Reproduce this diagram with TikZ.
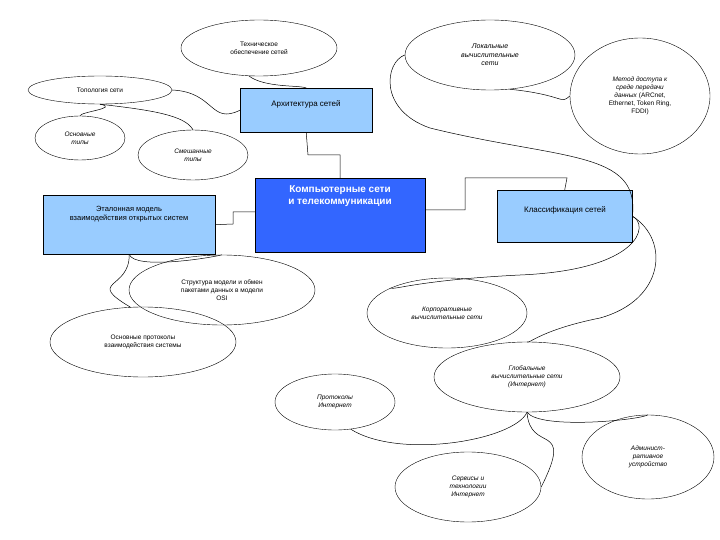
\documentclass[tikz,border=0pt]{standalone}
\usepackage{fontspec}
\setmainfont{Liberation Sans}
\usetikzlibrary{shapes.geometric}
\definecolor{lb}{HTML}{99CCFF}
\definecolor{db}{HTML}{3366FF}
\begin{document}
\begin{tikzpicture}[x=1pt,y=-1pt,
  el/.style={draw,ellipse,inner sep=0pt,align=center,font=\fontsize{6.5}{8}\selectfont},
  bx/.style={draw,fill=lb,align=center,font=\fontsize{8}{9.5}\selectfont,anchor=north west},
  ln/.style={draw,line width=0.5pt}]
\useasboundingbox (0,0) rectangle (720,540);
\node[el,minimum width=156,minimum height=56] (tech) at (259,48) {Техническое\\обеспечение сетей};
\node[el,minimum width=170,minimum height=70,font=\fontsize{7}{8.5}\selectfont\itshape] (loc) at (490,55) {Локальные\\вычислительные\\сети};
\node[el,minimum width=140,minimum height=116] (meth) at (640,96) {\textit{Метод доступа к}\\\textit{среде передачи}\\\textit{данных} (ARCnet,\\Ethernet, Token Ring,\\FDDI)};
\node[el,minimum width=144,minimum height=28] (top) at (100,90) {Топология сети};
\node[bx,minimum width=132,minimum height=44] (arch) at (240,88) {};
\node[font=\fontsize{8}{9.5}\selectfont] at (306,104) {Архитектура сетей};
\node[el,minimum width=90,minimum height=44,font=\fontsize{6.5}{8}\selectfont\itshape] (osn) at (80,138) {Основные\\типы};
\node[el,minimum width=110,minimum height=50,font=\fontsize{6.5}{8}\selectfont\itshape] (sme) at (193,155) {Смешанные\\типы};
\node[draw,fill=db,minimum width=170,minimum height=74,anchor=north west] (main) at (255,178) {};
\node[text=white,align=center,font=\fontsize{10}{12}\selectfont\bfseries] at (340,196) {Компьютерные сети\\и телекоммуникации};
\node[bx,minimum width=172,minimum height=59] (etal) at (43,195) {};
\node[align=center,font=\fontsize{7.5}{9}\selectfont] at (129,214) {Эталонная модель\\взаимодействия открытых систем};
\node[bx,minimum width=135,minimum height=52] (kl) at (497,190) {};
\node[font=\fontsize{8}{9.5}\selectfont] at (565,210) {Классификация сетей};
\node[el,minimum width=186,minimum height=70] (str) at (222,290) {Структура модели и обмен\\пакетами данных в модели\\OSI};
\node[el,minimum width=160,minimum height=70,font=\fontsize{6.5}{8}\selectfont\itshape] (kor) at (447,313) {Корпоративные\\вычислительные сети};
\node[el,minimum width=186,minimum height=70] (prot) at (143,342) {Основные протоколы\\взаимодействия системы};
\node[el,minimum width=186,minimum height=70,font=\fontsize{6.5}{8}\selectfont\itshape] (glob) at (527,377) {Глобальные\\вычислительные сети\\(Интернет)};
\node[el,minimum width=120,minimum height=56,font=\fontsize{6.5}{8}\selectfont\itshape] (pint) at (335,402) {Протоколы\\Интернет};
\node[el,minimum width=146,minimum height=70,font=\fontsize{6.5}{8}\selectfont\itshape] (serv) at (468,487) {Сервисы и\\технологии\\Интернет};
\node[el,minimum width=132,minimum height=84,font=\fontsize{6.5}{8}\selectfont\itshape] (adm) at (648,457) {Админист-\\ративное\\устройство};
% connectors
\draw[ln] (tech.250) .. controls (265,88) and (300,85) .. (arch.north);
\draw[ln] (top.east) .. controls (215,92) and (210,125) .. (arch.west);
\draw[ln] (top.south) .. controls (120,108) and (80,112) .. (osn.north);
\draw[ln] (top.south) .. controls (150,110) and (185,115) .. (sme.north);
\draw[ln] (arch.south) -- (308,155) -| (340,178);
\draw[ln] (etal.east) -- (233,224) |- (main.west |- 0,212);
\draw[ln] (main.east |- 0,210) -- (465,210) |- (567,178) -- (kl.north);
\draw[ln] (loc.west) .. controls (385,62) and (378,110) .. (430,128) .. controls (560,160) and (640,150) .. (kl.east);
\draw[ln] (meth.west) .. controls (560,105) and (565,95) .. (loc.300);
\draw[ln] (kl.east) .. controls (650,225) and (640,270) .. (520,275) .. controls (420,280) and (395,290) .. (kor.north west);
\draw[ln] (kl.east) .. controls (670,240) and (665,300) .. (600,318) .. controls (540,330) and (528,345) .. (glob.north);
\draw[ln] (etal.south) .. controls (135,270) and (210,258) .. (str.north);
\draw[ln] (etal.south) .. controls (130,290) and (85,280) .. (prot.110);
\draw[ln] (glob.south) .. controls (515,440) and (400,460) .. (pint.300);
\draw[ln] (glob.south) .. controls (530,455) and (575,420) .. (serv.east);
\draw[ln] (glob.south) .. controls (540,430) and (640,420) .. (adm.north);
\end{tikzpicture}
\end{document}
